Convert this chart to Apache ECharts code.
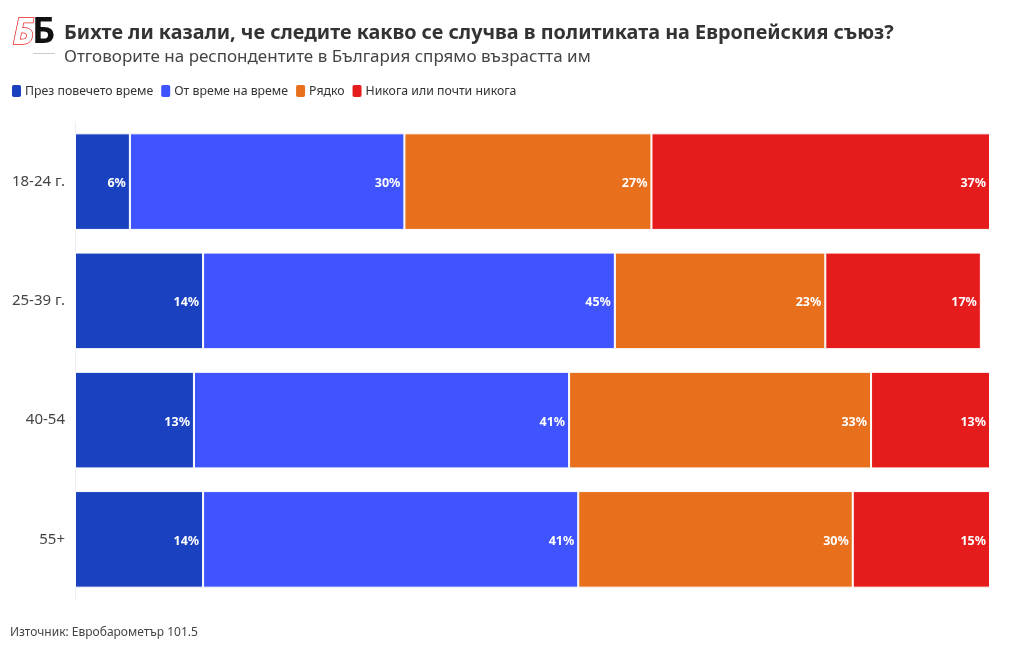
<!DOCTYPE html>
<html><head><meta charset="utf-8">
<script src="https://cdn.jsdelivr.net/npm/echarts@6/dist/echarts.min.js"></script>
<style>html,body{margin:0;padding:0;background:#fff}#c{width:1020px;height:650px}</style>
</head><body><div id="c"></div>
<script>
const categories = ['18-24 г.', '25-39 г.', '40-54', '55+'];
const seriesNames = ['През повечето време', 'От време на време', 'Рядко', 'Никога или почти никога'];
const mostTime = [6, 14, 13, 14];
const sometimes = [30, 45, 41, 41];
const rarely = [27, 23, 33, 30];
const never = [37, 17, 13, 15];
const colors = ['#1a42c0', '#3f53ff', '#e8701c', '#e61b1b'];
const FONT = '"Source Sans Pro","Noto Sans",sans-serif';

const values = [mostTime, sometimes, rarely, never];
const chart = echarts.init(document.getElementById('c'));
chart.setOption({
  animation: false,
  textStyle: { fontFamily: FONT },
  title: [
    { text: 'Бихте ли казали, че следите какво се случва в политиката на Европейския съюз?', left: 59, top: 18,
      textStyle: { fontFamily: FONT, fontWeight: 'bold', fontSize: 19.8, color: '#333' } },
    { text: 'Отговорите на респондентите в България спрямо възрастта им', left: 59, top: 44,
      textStyle: { fontFamily: FONT, fontWeight: 'normal', fontSize: 17, color: '#444' } },
    { text: 'Източник: Евробарометър 101.5', left: 5, top: 622,
      textStyle: { fontFamily: FONT, fontWeight: 'normal', fontSize: 12, color: '#444' } }
  ],
  graphic: [
    { type: 'text', left: 12, top: 15, style: { text: 'Б', font: 'italic bold 36px ' + FONT, fill: '#fff', stroke: '#e61b1b', lineWidth: 1.4 } },
    { type: 'text', left: 32, top: 15, style: { text: 'Б', font: 'bold 36px ' + FONT, fill: '#111' } },
    { type: 'rect', shape: { x: 33, y: 53, width: 22, height: 1 }, style: { fill: '#ccc' } }
  ],
  legend: {
    left: 5, top: 78, itemWidth: 11, itemHeight: 14, itemGap: 6,
    icon: 'roundRect',
    textStyle: { fontFamily: FONT, fontSize: 12.3, color: '#333', padding: [0, 0, 0, -2] },
    data: seriesNames
  },
  grid: { left: 75, right: 30, top: 122, bottom: 51, containLabel: false },
  xAxis: { type: 'value', min: 0, max: 100, show: false },
  yAxis: {
    type: 'category', data: categories, inverse: true,
    axisLine: { show: true, lineStyle: { color: '#eee' } },
    axisTick: { show: false },
    axisLabel: { fontFamily: FONT, fontSize: 15, color: '#444', margin: 10, padding: [4, 0, 0, 0] }
  },
  series: seriesNames.map((name, i) => ({
    name, type: 'bar', stack: 'total', data: values[i],
    barCategoryGap: '19%',
    itemStyle: { color: colors[i], borderColor: '#fff', borderWidth: 1 },
    label: {
      show: true, position: 'insideRight', distance: 4, offset: [0, 2],
      formatter: '{c}%', color: '#fff', fontWeight: 'bold', fontSize: 12.5, fontFamily: FONT
    }
  }))
});
</script></body></html>
